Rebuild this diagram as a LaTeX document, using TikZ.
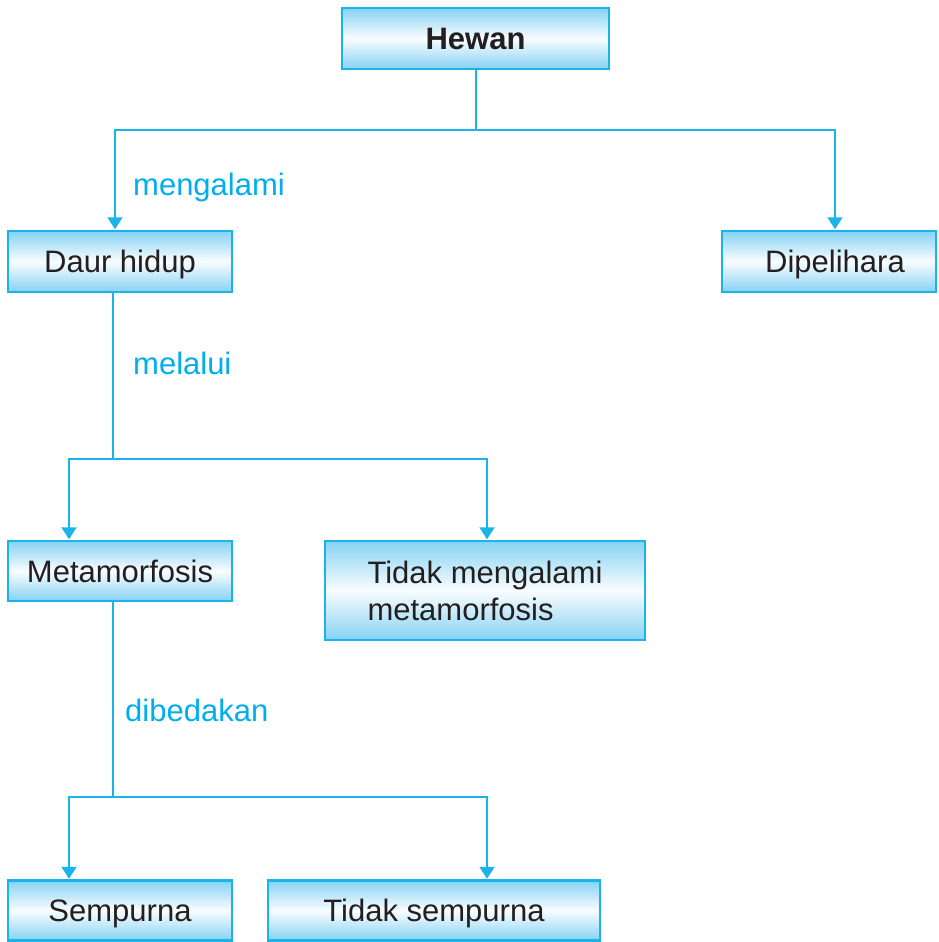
\documentclass[tikz,border=0pt]{standalone}
\usepackage{fontspec}
\setmainfont{Liberation Sans}
\usetikzlibrary{arrows.meta}
\definecolor{edgeblue}{HTML}{1BB4EA}
\definecolor{fillblue}{HTML}{86D2F3}
\definecolor{labblue}{HTML}{00AEEF}
\definecolor{txt}{HTML}{231F20}
\tikzset{
  box/.style={draw=edgeblue, line width=2.5pt, top color=fillblue, bottom color=fillblue, middle color=white!95!fillblue,
    inner sep=0pt, text=txt, font=\fontsize{31}{37}\selectfont, text height=22pt, text depth=0pt},
  conn/.style={draw=edgeblue, line width=2pt},
  arr/.style={conn, -{Triangle[width=15pt,length=12pt]}, shorten >=0.5pt},
  lab/.style={text=labblue, font=\fontsize{31}{37}\selectfont, anchor=west, inner sep=0pt}
}
\begin{document}
\begin{tikzpicture}[x=1pt,y=-1pt]
\useasboundingbox (0,0) rectangle (938,942);
\node[box, minimum width=267pt, minimum height=61pt, font=\fontsize{31}{37}\selectfont\bfseries] (hewan) at (475.5,38.5) {Hewan};
\node[box, minimum width=224pt, minimum height=61pt] (daur) at (120,261.5) {Daur hidup};
\node[box, minimum width=214pt, minimum height=61pt] (dip) at (829,261.5) {\hspace*{12pt}Dipelihara};
\node[box, minimum width=224pt, minimum height=60pt] (meta) at (120,571) {Metamorfosis};
\node[box, minimum width=320pt, minimum height=99pt, align=left, text height=, text depth=] (tidak) at (485,590.5) {\fontsize{31}{38}\selectfont Tidak mengalami\\metamorfosis};
\node[box, minimum width=224pt, minimum height=60pt] (semp) at (120,910.5) {Sempurna};
\node[box, minimum width=332pt, minimum height=60pt] (tsemp) at (434,910.5) {Tidak sempurna};

\coordinate (j1) at (475.5,130);
\coordinate (j2) at (113,459);
\coordinate (j3) at (113,797);

\draw[conn] (hewan.south) -- (j1);
\draw[arr] (j1) -| ([xshift=-5pt]daur.north);
\draw[arr] (j1) -| ([xshift=6pt]dip.north);
\draw[conn] ([xshift=-7pt]daur.south) -- (j2);
\draw[arr] (j2) -| ([xshift=-51pt]meta.north);
\draw[arr] (j2) -| ([xshift=2pt]tidak.north);
\draw[conn] ([xshift=-7pt]meta.south) -- (j3);
\draw[arr] (j3) -| ([xshift=-51pt]semp.north);
\draw[arr] (j3) -| ([xshift=53pt]tsemp.north);

\node[lab] (l1) at (133,187) {mengalami};
\node[lab] (l2) at (133,363) {melalui};
\node[lab] (l3) at (125,710) {dibedakan};
\end{tikzpicture}
\end{document}
